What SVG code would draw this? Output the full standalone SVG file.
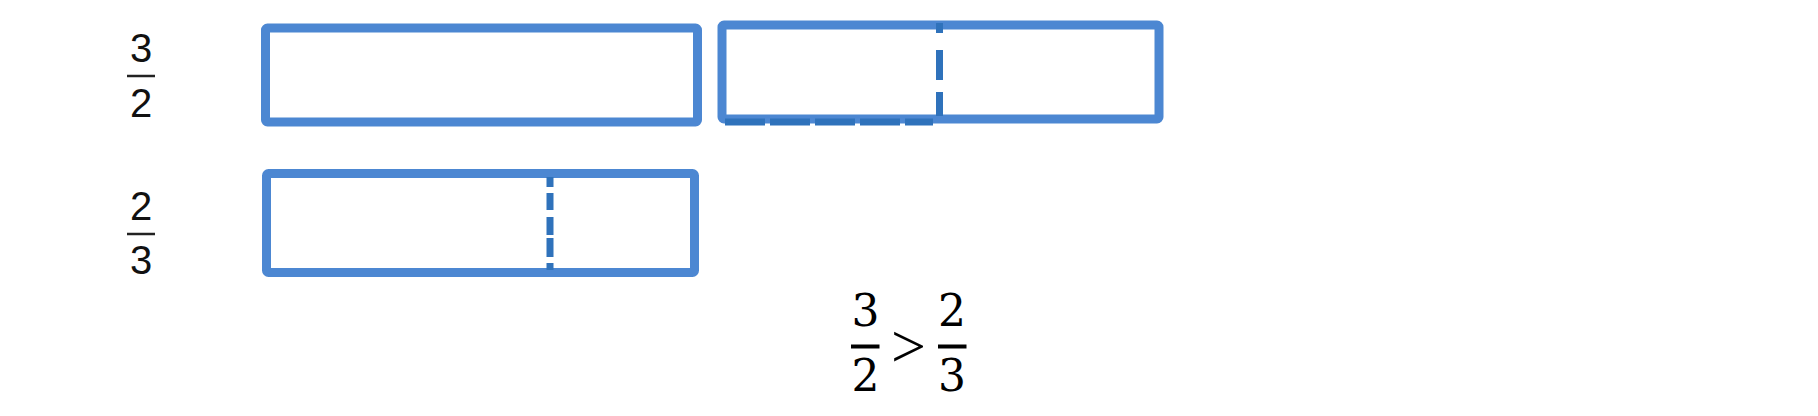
<svg xmlns="http://www.w3.org/2000/svg" width="1818" height="416" viewBox="0 0 1818 416">
<style>
.box{fill:none;stroke:#4c87d2;stroke-width:9;stroke-linejoin:round}
.dash{fill:none;stroke:#2f72bb;stroke-width:7}
.lbl{font-family:"Liberation Sans",Arial,sans-serif;font-size:40px;fill:#111;text-anchor:middle}
.bar{stroke:#222;stroke-width:2.5}
.eq{font-family:"DejaVu Serif","Liberation Serif",serif;font-size:44px;fill:#000;text-anchor:middle}
.eqbar{stroke:#000;stroke-width:4}
</style>
<rect width="1818" height="416" fill="#fff"/>
<g id="label-3-2">
<text class="lbl" x="141" y="62">3</text>
<line class="bar" x1="127" y1="76" x2="155" y2="76"/>
<text class="lbl" x="141" y="117">2</text>
</g>
<g id="label-2-3">
<text class="lbl" x="141" y="220">2</text>
<line class="bar" x1="127" y1="234" x2="155" y2="234"/>
<text class="lbl" x="141" y="274">3</text>
</g>
<g id="box1">
<rect class="box" x="265.5" y="28" width="432" height="94" rx="2"/>
</g>
<g id="box2">
<rect class="box" x="722" y="25" width="437" height="94" rx="2"/>
</g>
<g id="box3">
<rect class="box" x="266.5" y="173.5" width="428" height="99" rx="2"/>
</g>
<g id="connectors">
<line class="dash" x1="939.5" y1="23" x2="939.5" y2="117" stroke-dasharray="10 17 30 12 24"/>
<line class="dash" x1="725" y1="122" x2="933" y2="122" stroke-width="4" stroke-dasharray="40 5"/>
<line class="dash" x1="550" y1="177" x2="550" y2="270" stroke-dasharray="10 6 17 7 18 3 19 6 7"/>
</g>
<g id="comparison">
<text class="eq" x="865.5" y="326">3</text>
<line class="eqbar" x1="851" y1="346.5" x2="879.5" y2="346.5"/>
<text class="eq" x="865.5" y="391">2</text>
<text x="908.5" y="367" font-family="Liberation Serif,serif" font-size="62" text-anchor="middle" fill="#000">&gt;</text>
<text class="eq" x="952" y="326">2</text>
<line class="eqbar" x1="938" y1="346.5" x2="966.5" y2="346.5"/>
<text class="eq" x="952" y="391">3</text>
</g>
</svg>
